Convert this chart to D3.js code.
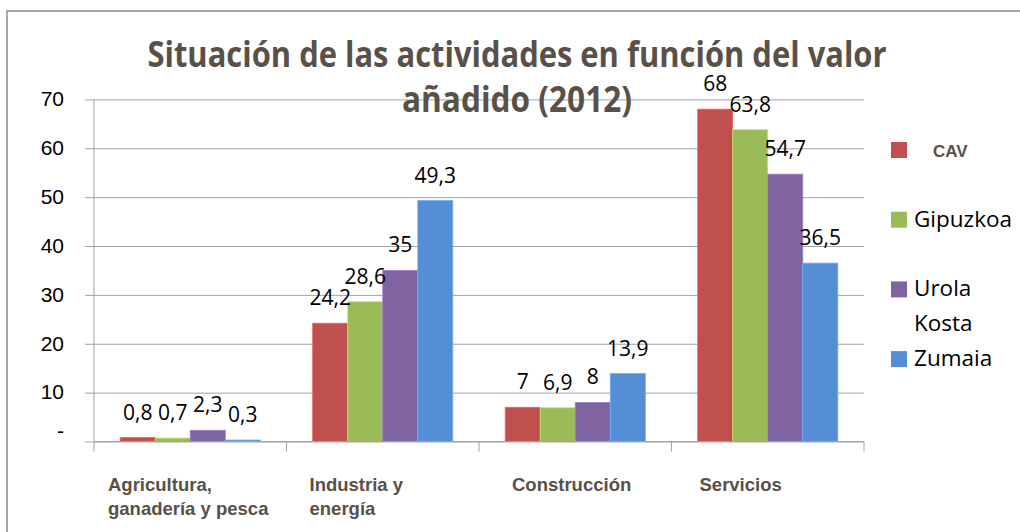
<!DOCTYPE html>
<html>
<head>
<meta charset="utf-8">
<script src="https://cdn.jsdelivr.net/npm/d3@7"></script>
<style>
  body { margin: 0; background: #fff; }
  svg { display: block; }
</style>
</head>
<body>
<svg id="chart" width="1020" height="532"></svg>
<script>
// data
const categories = ['Agricultura, ganadería y pesca', 'Industria y energía', 'Construcción', 'Servicios'];
const categoryLines = [['Agricultura,', 'ganadería y pesca'], ['Industria y', 'energía'], ['Construcción'], ['Servicios']];
const seriesNames = ['CAV', 'Gipuzkoa', 'Urola Kosta', 'Zumaia'];
const cavValues = [0.8, 24.2, 7, 68];
const gipuzkoaValues = [0.7, 28.6, 6.9, 63.8];
const urolaValues = [2.3, 35, 8, 54.7];
const zumaiaValues = [0.3, 49.3, 13.9, 36.5];
const yTicks = [0, 10, 20, 30, 40, 50, 60, 70];
const titleLines = ['Situación de las actividades en función del valor', 'añadido (2012)'];

const seriesValues = [cavValues, gipuzkoaValues, urolaValues, zumaiaValues];
const colors = ['#c0504d', '#9bbb59', '#8064a2', '#558ed5'];

const svg = d3.select('#chart');
const textGray = '#595048';
const gridGray = '#a3a3a3';

// chart frame (right/bottom edges fall outside the picture)
svg.append('rect')
  .attr('x', 7).attr('y', 11)
  .attr('width', 1040).attr('height', 560)
  .attr('fill', 'none')
  .attr('stroke', '#a6a6a6')
  .attr('stroke-width', 2);

const plot = { left: 94, right: 864, top: 99.4, bottom: 441.5 };

const y = d3.scaleLinear().domain([0, 70]).range([plot.bottom, plot.top]);
const x0 = d3.scaleBand().domain(categories).range([plot.left, plot.right]);
const x1 = d3.scaleBand().domain(seriesNames)
  .range([x0.bandwidth() * 0.136, x0.bandwidth() * 0.864]);

// gridlines + y labels
const yAxis = d3.axisLeft(y)
  .tickValues(yTicks)
  .tickSize(-(plot.right - plot.left + 9))
  .tickPadding(21)
  .tickFormat(d => (d === 0 ? '-' : d));

const gy = svg.append('g')
  .attr('transform', `translate(${plot.left - 9},0)`)
  .call(yAxis);
gy.select('.domain').remove();
gy.selectAll('line').attr('stroke', gridGray);
gy.selectAll('text')
  .attr('font-family', 'Liberation Sans, Arial, sans-serif')
  .attr('font-size', 21)
  .attr('fill', '#000')
  .attr('dy', d => (d === 0 ? '-0.2em' : '0.3em'));

// y axis line
svg.append('line')
  .attr('x1', plot.left).attr('x2', plot.left)
  .attr('y1', plot.top).attr('y2', plot.bottom)
  .attr('stroke', gridGray);

// bars
const groups = svg.append('g').selectAll('g')
  .data(categories).enter()
  .append('g')
  .attr('transform', d => `translate(${x0(d)},0)`);

groups.selectAll('rect')
  .data((c, i) => seriesNames.map((s, j) => ({ s, j, v: seriesValues[j][i] })))
  .enter()
  .append('rect')
  .attr('x', d => x1(d.s))
  .attr('y', d => y(d.v))
  .attr('width', x1.bandwidth())
  .attr('height', d => y(0) - y(d.v))
  .attr('fill', d => colors[d.j])
  .attr('stroke', d => d3.rgb(colors[d.j]).brighter(0.6))
  .attr('stroke-width', 0.8);

groups.selectAll('text')
  .data((c, i) => seriesNames.map((s, j) => ({ s, j, v: seriesValues[j][i] })))
  .enter()
  .append('text')
  .attr('x', d => x1(d.s) + x1.bandwidth() / 2)
  .attr('y', d => y(d.v) - 18)
  .attr('text-anchor', 'middle')
  .attr('font-family', 'Open Sans, sans-serif')
  .attr('font-size', 21)
  .attr('fill', '#000')
  .text(d => String(d.v).replace('.', ','));

// x axis line and ticks at category boundaries
svg.append('line')
  .attr('x1', plot.left).attr('x2', plot.right)
  .attr('y1', plot.bottom).attr('y2', plot.bottom)
  .attr('stroke', gridGray);

const bounds = categories.map(c => x0(c)).concat([plot.right]);
svg.append('g').selectAll('line')
  .data(bounds).enter()
  .append('line')
  .attr('x1', d => d).attr('x2', d => d)
  .attr('y1', plot.bottom).attr('y2', plot.bottom + 10)
  .attr('stroke', gridGray);

// category labels
const labelOffsets = [14, 23, 33, 28];
const catText = svg.append('g').selectAll('text')
  .data(categories).enter()
  .append('text')
  .attr('font-family', 'Liberation Sans, Arial, sans-serif')
  .attr('font-weight', 'bold')
  .attr('font-size', 18.5)
  .attr('fill', textGray);

catText.each(function (c, i) {
  d3.select(this).selectAll('tspan')
    .data(categoryLines[i]).enter()
    .append('tspan')
    .attr('x', x0(c) + labelOffsets[i])
    .attr('y', (d, k) => 491 + k * 24)
    .text(d => d);
});

// legend
const legend = svg.append('g').selectAll('g')
  .data(seriesNames).enter()
  .append('g')
  .attr('transform', (d, i) => `translate(891,${142 + i * 69.7})`);

legend.append('rect')
  .attr('width', 16).attr('height', 16)
  .attr('fill', (d, i) => colors[i]);

legend.append('text')
  .each(function (d, i) {
    const t = d3.select(this);
    if (i === 0) {
      t.attr('x', 42).attr('y', 15)
        .attr('font-family', 'Liberation Sans, Arial, sans-serif')
        .attr('font-weight', 'bold')
        .attr('font-size', 17)
        .attr('fill', textGray)
        .text(d);
    } else {
      t.attr('font-family', 'Open Sans, sans-serif')
        .attr('font-size', 22.5)
        .attr('fill', '#000');
      t.selectAll('tspan')
        .data(d.split(' ')).enter()
        .append('tspan')
        .attr('x', 23)
        .attr('y', (w, k) => 15 + k * 35)
        .text(w => w);
    }
  });

// title
svg.append('g').selectAll('text')
  .data(titleLines).enter()
  .append('text')
  .attr('x', 517)
  .attr('y', (d, i) => 67 + i * 45)
  .attr('text-anchor', 'middle')
  .attr('font-family', 'Open Sans, sans-serif')
  .attr('font-weight', 'bold')
  .attr('font-size', 36)
  .attr('fill', textGray)
  .attr('textLength', (d, i) => (i === 0 ? 739 : 230))
  .attr('lengthAdjust', 'spacingAndGlyphs')
  .text(d => d);
</script>
</body>
</html>
